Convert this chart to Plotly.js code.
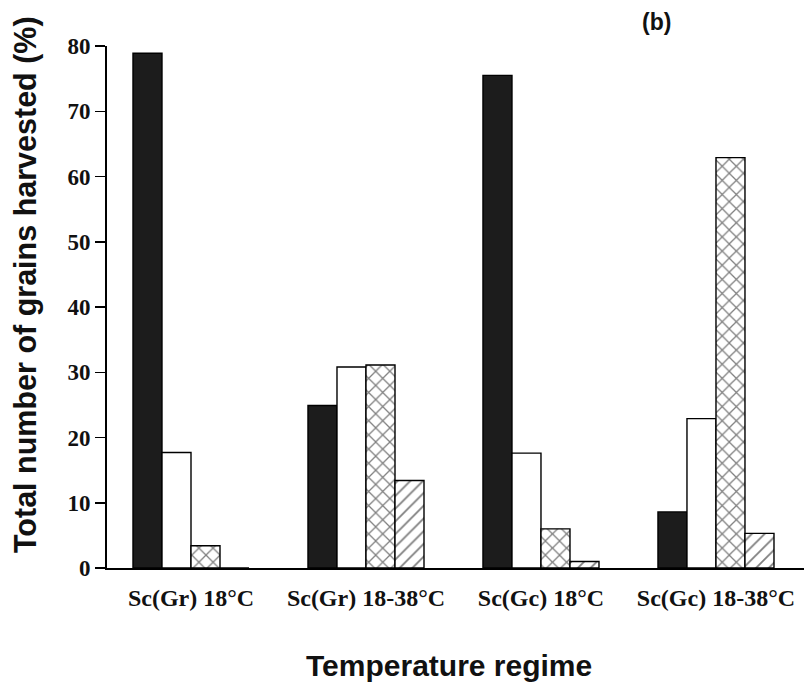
<!DOCTYPE html>
<html>
<head>
<meta charset="utf-8">
<script src="https://cdn.plot.ly/plotly-3.0.1.min.js"></script>
<style>html,body{margin:0;padding:0;background:#fff;}#chart{width:804px;height:682px;}</style>
</head>
<body>
<div id="chart"></div>
<script>
const categories = ["Sc(Gr) 18°C", "Sc(Gr) 18-38°C", "Sc(Gc) 18°C", "Sc(Gc) 18-38°C"];
const seriesNames = ["Solid", "Open", "Cross-hatched", "Hatched"];
const solidValues = [78.9, 24.9, 75.5, 8.6];
const openValues = [17.7, 30.8, 17.6, 22.9];
const crossValues = [3.4, 31.1, 6.0, 62.9];
const hatchedValues = [0, 13.4, 1.0, 5.3];
const yTicks = [0, 10, 20, 30, 40, 50, 60, 70, 80];

const outline = {color: "#000", width: 1.4};
const traces = [
  {name: seriesNames[0], y: solidValues, marker: {color: "#1c1c1c", line: outline}},
  {name: seriesNames[1], y: openValues, marker: {color: "#ffffff", line: outline}},
  {name: seriesNames[2], y: crossValues, marker: {color: "#ffffff", line: outline,
     pattern: {shape: "x", size: 10, solidity: 0.24, fgcolor: "#000", bgcolor: "#ffffff", fillmode: "overlay"}}},
  {name: seriesNames[3], y: hatchedValues, marker: {color: "#ffffff", line: outline,
     pattern: {shape: "/", size: 9, solidity: 0.2, fgcolor: "#000", bgcolor: "#ffffff", fillmode: "overlay"}}}
].map(t => Object.assign({type: "bar", x: categories, hoverinfo: "x+y+name"}, t));

const layout = {
  width: 804, height: 682,
  margin: {l: 107, r: 0, t: 46, b: 114, pad: 0},
  paper_bgcolor: "#ffffff", plot_bgcolor: "#ffffff",
  showlegend: false,
  barmode: "group", bargap: 0.337, bargroupgap: 0,
  xaxis: {
    type: "category", range: [-0.48, 3.503], automargin: false,
    showline: true, linecolor: "#000", linewidth: 2,
    ticks: "", showgrid: false, zeroline: false,
    ticklabelstandoff: 7,
    tickfont: {family: "Liberation Serif, Times New Roman, serif", size: 24, color: "#111", weight: "bold"}
  },
  yaxis: {
    range: [0, 80], automargin: false,
    tickvals: yTicks, ticktext: yTicks.map(String),
    showline: true, linecolor: "#000", linewidth: 2,
    ticks: "outside", ticklen: 10, tickwidth: 1.5, tickcolor: "#000",
    showgrid: false, zeroline: false,
    tickfont: {family: "Liberation Serif, Times New Roman, serif", size: 23, color: "#111", weight: "bold"}
  },
  annotations: [
    {text: "Total number of grains harvested (%)", xref: "paper", yref: "paper",
     x: -0.117, y: 0.543, xanchor: "center", yanchor: "middle", textangle: -90, showarrow: false,
     font: {family: "Liberation Sans, Arial, sans-serif", size: 30.5, color: "#111", weight: "bold"}},
    {text: "Temperature regime", xref: "paper", yref: "paper",
     x: 0.4907, y: -0.186, xanchor: "center", yanchor: "middle", showarrow: false,
     font: {family: "Liberation Sans, Arial, sans-serif", size: 30, color: "#111", weight: "bold"}},
    {text: "(b)", xref: "paper", yref: "paper",
     x: 0.788, y: 1.046, xanchor: "center", yanchor: "middle", showarrow: false,
     font: {family: "Liberation Sans, Arial, sans-serif", size: 23, color: "#111", weight: "bold"}}
  ]
};

Plotly.newPlot("chart", traces, layout, {staticPlot: true});
</script>
</body>
</html>
